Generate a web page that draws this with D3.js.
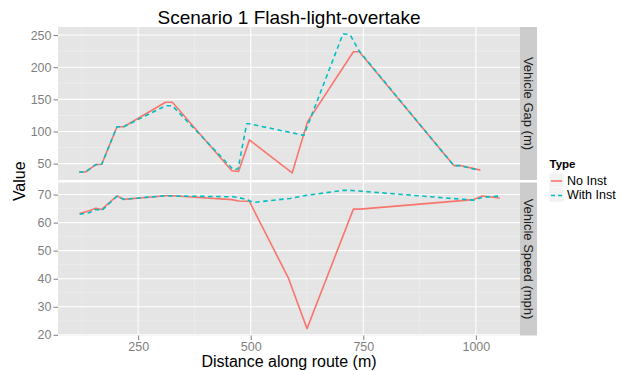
<!DOCTYPE html>
<html>
<head>
<meta charset="utf-8">
<script src="https://cdn.jsdelivr.net/npm/d3@7"></script>
<style>
  body { margin: 0; background: #fff; }
  svg text { font-family: "Liberation Sans", Arial, sans-serif; }
</style>
</head>
<body>
<div id="chart"></div>
<script>
// data
const typeNames = ['No Inst', 'With Inst'];
const panelNames = ['Vehicle Gap (m)', 'Vehicle Speed (mph)'];

const gapNoInstX = [119, 133, 156, 169, 203, 218, 311, 326, 458, 473, 497, 592, 626, 728, 741, 951, 965, 1010];
const gapNoInst  = [37, 37, 48.5, 49, 107.5, 107.5, 145.5, 145.5, 39, 38, 87, 35.5, 115, 224, 224, 47, 47, 40];

const gapWithInstX = [119, 133, 156, 169, 203, 218, 311, 326, 461, 472, 491, 497, 618, 705, 721, 741, 951, 965, 1005];
const gapWithInst  = [37, 37, 48.5, 49, 107.5, 107.5, 140, 140, 41, 42, 112, 112, 94, 252, 250, 225, 47, 47, 40];

const speedNoInstX = [120, 141, 156, 169, 203, 218, 311, 326, 458, 473, 497, 584, 625, 728, 743, 995, 1014, 1053];
const speedNoInst  = [63.2, 64.2, 65.1, 64.7, 69.5, 68.3, 69.6, 69.6, 68.2, 67.7, 67.6, 40.1, 22.2, 64.8, 64.8, 68.2, 69.5, 68.8];

const speedWithInstX = [120, 141, 156, 169, 203, 218, 311, 326, 461, 472, 491, 506, 587, 623, 706, 721, 995, 1014, 1053];
const speedWithInst  = [63, 63.5, 64.7, 64.3, 69.4, 68.3, 69.6, 69.5, 69.2, 69, 68.2, 67.2, 68.6, 69.7, 71.5, 71.5, 68, 69, 69.5];

const xTicks = [250, 500, 750, 1000];
const xMinor = [125, 375, 625, 875];
const gapTicks = [50, 100, 150, 200, 250];
const gapMinor = [75, 125, 175, 225];
const speedTicks = [20, 30, 40, 50, 60, 70];
const speedMinor = [25, 35, 45, 55, 65];

const colors = ['#F8766D', '#00BFC4'];

const width = 627, height = 371;
const left = 58, right = 520, stripW = 17;

const svg = d3.select('#chart').append('svg')
  .attr('width', width).attr('height', height);

const x = d3.scaleLinear().domain([72, 1098]).range([left, right]);

const panels = [
  { name: panelNames[0], top: 27, bottom: 180, domain: [24.6, 262.5], ticks: gapTicks, minor: gapMinor,
    series: [[gapNoInstX, gapNoInst], [gapWithInstX, gapWithInst]] },
  { name: panelNames[1], top: 182.5, bottom: 335.5, domain: [19.75, 74.3], ticks: speedTicks, minor: speedMinor,
    series: [[speedNoInstX, speedNoInst], [speedWithInstX, speedWithInst]] }
];

panels.forEach(p => {
  const y = d3.scaleLinear().domain(p.domain).range([p.bottom, p.top]);
  const g = svg.append('g');

  g.append('rect').attr('x', left).attr('y', p.top)
    .attr('width', right - left).attr('height', p.bottom - p.top)
    .attr('fill', '#E5E5E5');

  // minor grid
  g.selectAll('.ym').data(p.minor).enter().append('line')
    .attr('x1', left).attr('x2', right)
    .attr('y1', d => y(d)).attr('y2', d => y(d))
    .attr('stroke', '#F2F2F2').attr('stroke-width', 0.5);
  g.selectAll('.xm').data(xMinor).enter().append('line')
    .attr('y1', p.top).attr('y2', p.bottom)
    .attr('x1', d => x(d)).attr('x2', d => x(d))
    .attr('stroke', '#F2F2F2').attr('stroke-width', 0.5);
  // major grid
  g.selectAll('.yM').data(p.ticks).enter().append('line')
    .attr('x1', left).attr('x2', right)
    .attr('y1', d => y(d)).attr('y2', d => y(d))
    .attr('stroke', '#fff').attr('stroke-width', 1.1);
  g.selectAll('.xM').data(xTicks).enter().append('line')
    .attr('y1', p.top).attr('y2', p.bottom)
    .attr('x1', d => x(d)).attr('x2', d => x(d))
    .attr('stroke', '#fff').attr('stroke-width', 1.1);

  // y axis
  const ax = g.append('g').attr('transform', `translate(${left},0)`)
    .call(d3.axisLeft(y).tickValues(p.ticks).tickFormat(d3.format('d')).tickSize(4.5).tickPadding(2));
  ax.select('.domain').remove();
  ax.selectAll('line').attr('stroke', '#7F7F7F');
  ax.selectAll('text').attr('fill', '#7F7F7F').style('font-size', '12.5px')
    .style('font-family', '"Liberation Sans", Arial, sans-serif');

  // lines
  const line = d3.line().x(d => x(d[0])).y(d => y(d[1]));
  p.series.forEach((s, i) => {
    const pts = s[0].map((v, k) => [v, s[1][k]]);
    g.append('path').datum(pts)
      .attr('d', line)
      .attr('fill', 'none')
      .attr('stroke', colors[i])
      .attr('stroke-width', 1.6)
      .attr('stroke-linejoin', 'round')
      .attr('stroke-dasharray', i === 1 ? '4.5,3.5' : null);
  });

  // strip
  g.append('rect').attr('x', right).attr('y', p.top)
    .attr('width', stripW).attr('height', p.bottom - p.top)
    .attr('fill', '#CCCCCC');
  g.append('text')
    .attr('transform', `translate(${right + stripW / 2 - 4.5},${(p.top + p.bottom) / 2}) rotate(90)`)
    .attr('text-anchor', 'middle')
    .style('font-size', '13px')
    .attr('fill', '#1a1a1a')
    .text(p.name);
});

// x axis
const xa = svg.append('g').attr('transform', `translate(0,${panels[1].bottom})`)
  .call(d3.axisBottom(x).tickValues(xTicks).tickFormat(d3.format('d')).tickSize(4.5).tickPadding(2));
xa.select('.domain').remove();
xa.selectAll('line').attr('stroke', '#7F7F7F');
xa.selectAll('text').attr('fill', '#7F7F7F').style('font-size', '12.5px')
  .style('font-family', '"Liberation Sans", Arial, sans-serif');

// titles
svg.append('text').attr('x', (left + right) / 2).attr('y', 24)
  .attr('text-anchor', 'middle').style('font-size', '19px')
  .text('Scenario 1 Flash-light-overtake');
svg.append('text').attr('x', (left + right) / 2).attr('y', 366.5)
  .attr('text-anchor', 'middle').style('font-size', '16px')
  .text('Distance along route (m)');
svg.append('text')
  .attr('transform', `translate(25,${(panels[0].top + panels[1].bottom) / 2}) rotate(-90)`)
  .attr('text-anchor', 'middle').style('font-size', '16px')
  .text('Value');

// legend
const lg = svg.append('g').attr('transform', 'translate(549.5,0)');
lg.append('text').attr('x', 0).attr('y', 167.7)
  .style('font-size', '11.5px').style('font-weight', 'bold').text('Type');
typeNames.forEach((n, i) => {
  const ky = 173.5 + i * 14.5;
  lg.append('rect').attr('x', 0).attr('y', ky).attr('width', 14).attr('height', 14)
    .attr('fill', '#F2F2F2');
  lg.append('line').attr('x1', 1.5).attr('x2', 12.5)
    .attr('y1', ky + 7.5).attr('y2', ky + 7.5)
    .attr('stroke', colors[i]).attr('stroke-width', 1.6)
    .attr('stroke-dasharray', i === 1 ? '4,3' : null);
  lg.append('text').attr('x', 17.5).attr('y', ky + 11.3)
    .style('font-size', '12.5px').text(n);
});
</script>
</body>
</html>
